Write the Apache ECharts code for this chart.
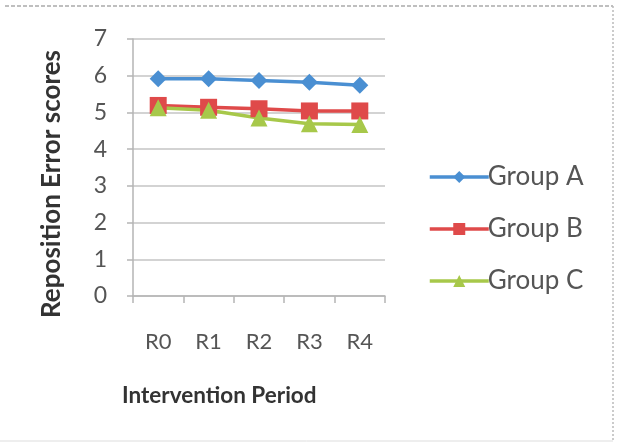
<!DOCTYPE html>
<html><head><meta charset="utf-8">
<script src="https://cdn.jsdelivr.net/npm/echarts@6/dist/echarts.min.js"></script>
<style>html,body{margin:0;padding:0;background:#fff}#c{width:619px;height:444px}</style>
</head><body><div id="c"></div>
<script>
const categories = ['R0','R1','R2','R3','R4'];
const groupA = [5.92, 5.92, 5.87, 5.82, 5.74];
const groupB = [5.19, 5.14, 5.10, 5.04, 5.04];
const groupC = [5.13, 5.06, 4.85, 4.69, 4.67];
const seriesNames = ['Group A','Group B','Group C'];
const yTitle = 'Reposition Error scores';
const xTitle = 'Intervention Period';

const FONT = 'Lato';
const chart = echarts.init(document.getElementById('c'), null, {renderer:'canvas'});
const mk = (name, data, color, symbol) => ({
  name, type:'line', data, symbol, symbolSize: 17,
  lineStyle:{color, width:3.5}, itemStyle:{color},
  animation:false
});
chart.setOption({
  backgroundColor:'#fff',
  animation:false,
  grid:{left:133, right:234, top:39, bottom:148},
  xAxis:{
    type:'category', data:categories, boundaryGap:true,
    axisLine:{lineStyle:{color:'#b5b5b5', width:1.5}},
    axisTick:{show:true, length:7, lineStyle:{color:'#b5b5b5', width:1.5}},
    axisLabel:{color:'#555', fontFamily:FONT, fontSize:22, margin:35}
  },
  yAxis:{
    type:'value', min:0, max:7, interval:1,
    axisLine:{show:true, lineStyle:{color:'#b5b5b5', width:1.5}},
    axisTick:{show:true, length:6, lineStyle:{color:'#b5b5b5', width:1.5}},
    splitLine:{lineStyle:{color:'#c4c4c4', width:1.5}},
    axisLabel:{color:'#555', fontFamily:FONT, fontSize:23, margin:26}
  },
  legend:{
    orient:'vertical', left:428, top:164, itemWidth:59, itemHeight:15, itemGap:26,
    padding:0,
    lineStyle:{width:3.5},
    data:seriesNames,
    textStyle:{color:'#555', fontFamily:FONT, fontSize:26, lineHeight:26, padding:[0,0,0,-6]}
  },
  graphic:[
    {type:'text', left:122, top:384,
     style:{text:xTitle, fill:'#333', font:'bold 22.5px '+FONT}},
    {type:'text', rotation:Math.PI/2, x:39, y:318,
     style:{text:yTitle, fill:'#333', font:'bold 26px '+FONT, textVerticalAlign:'top'}},
    {type:'line', shape:{x1:5,y1:6,x2:613,y2:6}, style:{stroke:'#aaa', lineWidth:1.5, lineDash:[4,2]}},
    {type:'line', shape:{x1:613,y1:6,x2:613,y2:441}, style:{stroke:'#bbb', lineWidth:1.5, lineDash:[2,2]}},
    {type:'line', shape:{x1:0,y1:441,x2:613,y2:441}, style:{stroke:'#ddd', lineWidth:1}}
  ],
  series:[
    mk(seriesNames[0], groupA, '#4a8fd2', 'diamond'),
    mk(seriesNames[1], groupB, '#df4a4a', 'rect'),
    mk(seriesNames[2], groupC, '#a7c84a', 'triangle')
  ]
});
</script></body></html>
